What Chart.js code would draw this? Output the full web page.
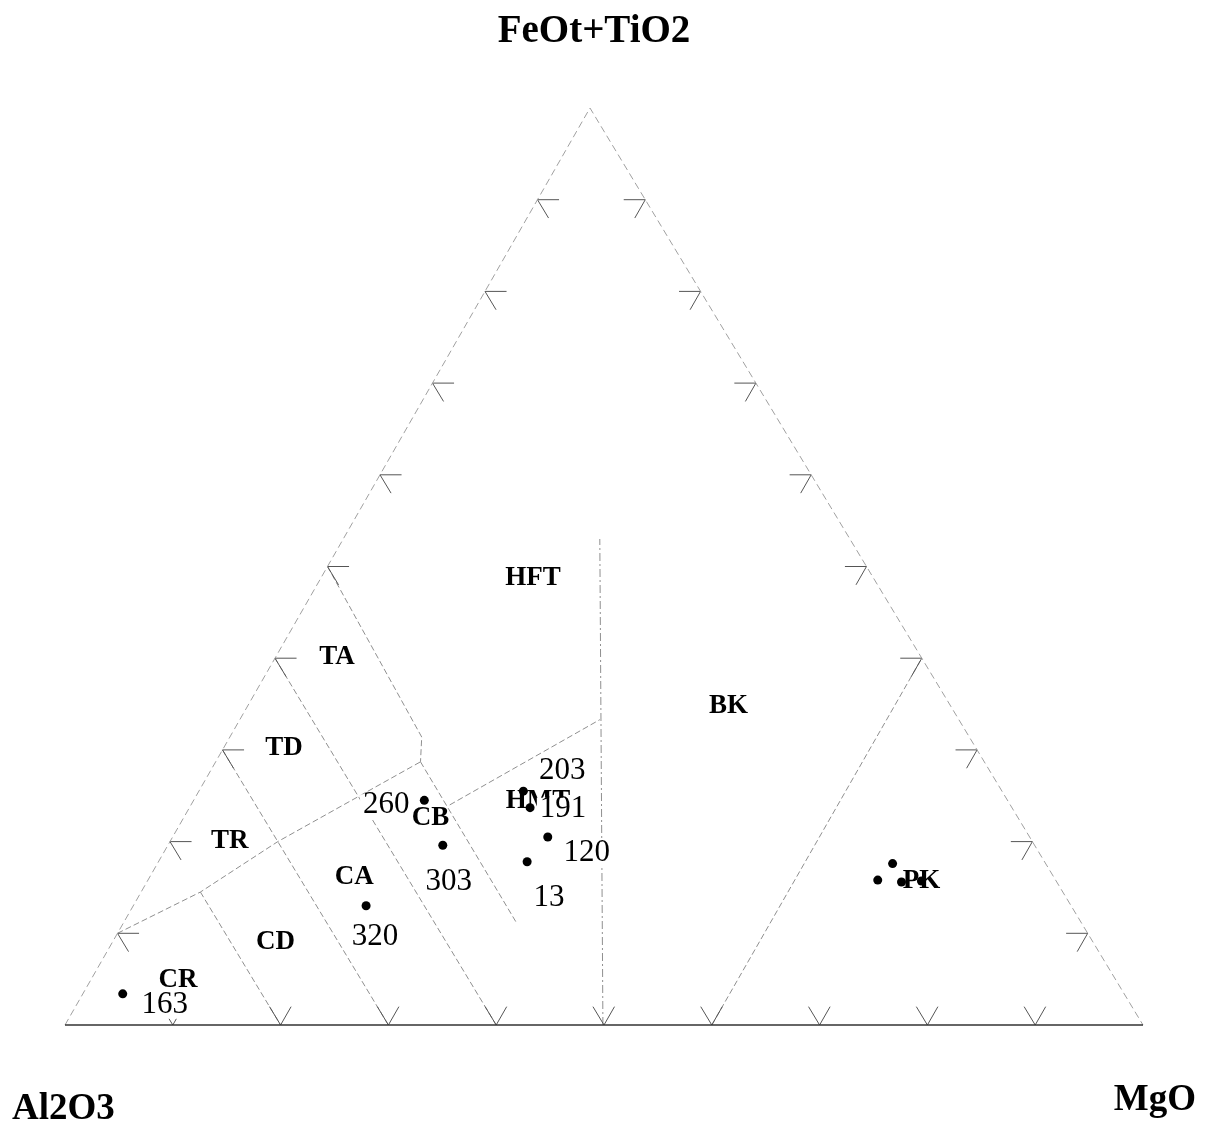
<!DOCTYPE html>
<html>
<head>
<meta charset="utf-8">
<script src="https://cdn.jsdelivr.net/npm/chart.js@4.4.1/dist/chart.umd.min.js"></script>
<style>
  html, body { margin: 0; padding: 0; background: #fff; }
</style>
</head>
<body>
<canvas id="jensenChart" width="1206" height="1125"></canvas>
<script>
// Jensen cation plot: Al2O3 - (FeOt+TiO2) - MgO, values in cation %

// labelled samples
const sampleIds = ['163', '320', '303', '260', '203', '191', '120', '13'];
const sampleAl = [92.9, 65.4, 54.9, 54.1, 44.4, 44.7, 44.7, 48.0];
const sampleFe = [3.4, 13.0, 19.6, 24.5, 25.5, 23.7, 20.5, 17.8];
const sampleMg = [3.7, 21.6, 25.5, 21.4, 30.1, 31.6, 34.8, 34.2];

// samples plotted inside PK without number
const pkAl = [14.2, 16.5, 14.4, 12.5];
const pkFe = [17.6, 15.8, 15.6, 15.7];
const pkMg = [68.2, 67.7, 70.0, 71.8];

// field names and where they are written
const fieldNames = ['HFT', 'TA', 'TD', 'TR', 'CB', 'HMT', 'CA', 'CD', 'CR', 'BK', 'PK'];
const fieldAl = [31.6, 54.2, 64.2, 74.4, 54.5, 43.6, 64.9, 75.8, 87.0, 20.6, 12.5];
const fieldFe = [48.7, 40.1, 30.2, 20.1, 22.6, 24.4, 16.1, 9.1, 4.9, 34.8, 15.7];
const fieldMg = [19.7, 5.7, 5.6, 5.5, 22.9, 32.0, 19.0, 15.1, 8.1, 44.6, 71.8];

// field boundaries, [Al, Fe, Mg]
const lineKomatiite = [[50.1, 0, 49.9], [23.2, 53.0, 23.8]];
const linePK = [[40, 0, 60], [0, 40, 60]];
const lineAl50 = [[50, 50, 0], [50.8, 31.4, 17.8], [52.3, 28.7, 19.0]];
const lineAl60 = [[60, 40, 0], [60, 0, 40]];
const lineAl70 = [[70, 30, 0], [70, 0, 30]];
const lineAl80 = [[80, 14.5, 5.5], [80, 0, 20]];
const lineThCa = [[90, 10, 0], [80, 14.5, 5.5], [70, 20, 10], [52.3, 28.7, 19.0]];
const lineHmt = [[52.3, 28.7, 19.0], [52.4, 11.1, 36.5]];
const lineHft = [[52, 24, 24], [33.3, 33.3, 33.4]];

const tickSteps = [10, 20, 30, 40, 50, 60, 70, 80, 90];
const TICK = 2;
const SKEW = 0.487; // top apex sits a little left of the base centre

function tern(al, fe, mg) {
    const s = al + fe + mg;
    const f = fe / s * 100;
    const m = mg / s * 100;
    return { x: m + SKEW * f, y: f };
}
const toPoints = list => list.map(p => tern(p[0], p[1], p[2]));
const gap = { x: null, y: null };

const tickPts = [];
tickSteps.forEach(v => {
    tickPts.push(tern(100 - v, v, 0), tern(100 - v - TICK, v, TICK), gap);
    tickPts.push(tern(100 - v, v, 0), tern(100 - v, v - TICK, TICK), gap);
    tickPts.push(tern(0, v, 100 - v), tern(TICK, v, 100 - v - TICK), gap);
    tickPts.push(tern(0, v, 100 - v), tern(TICK, v - TICK, 100 - v), gap);
    tickPts.push(tern(100 - v, 0, v), tern(100 - v - TICK, TICK, v), gap);
    tickPts.push(tern(100 - v, 0, v), tern(100 - v, TICK, v - TICK), gap);
});

const samplePts = sampleIds.map((id, i) => tern(sampleAl[i], sampleFe[i], sampleMg[i]));
const pkPts = pkAl.map((a, i) => tern(a, pkFe[i], pkMg[i]));

const labelDx = [42, 9, 6, -38, 39, 33, 39, 22];
const labelDy = [11, 31, 37, 5, -20, 1, 16, 36];

const serif = '"Liberation Serif", "Times New Roman", serif';

function lineSet(points, color, width, dash) {
    return {
        data: points,
        showLine: true,
        pointRadius: 0,
        borderColor: color,
        borderWidth: width,
        borderDash: dash,
        fill: false,
        tension: 0,
        spanGaps: false,
        clip: false
    };
}

const labelPlugin = {
    id: 'jensenLabels',
    beforeDatasetDraw(chart, args) {
        if (args.index !== 0) return;
        const { ctx, scales } = chart;
        const toPx = p => ({ x: scales.x.getPixelForValue(p.x), y: scales.y.getPixelForValue(p.y) });
        ctx.save();
        ctx.textAlign = 'center';
        ctx.textBaseline = 'middle';
        ctx.fillStyle = '#000';
        ctx.font = 'bold 27px ' + serif;
        fieldNames.forEach((name, i) => {
            const p = toPx(tern(fieldAl[i], fieldFe[i], fieldMg[i]));
            ctx.fillText(name, p.x, p.y);
        });
        ctx.font = '31px ' + serif;
        sampleIds.forEach((id, i) => {
            const p = toPx(samplePts[i]);
            const cx = p.x + labelDx[i];
            const cy = p.y + labelDy[i];
            const w = ctx.measureText(id).width;
            ctx.fillStyle = '#fff';
            ctx.fillRect(cx - w / 2 - 3, cy - 11, w + 6, 25);
            ctx.fillStyle = '#000';
            ctx.fillText(id, cx, cy);
        });
        ctx.restore();
    },
    afterDraw(chart) {
        const ctx = chart.ctx;
        ctx.save();
        ctx.fillStyle = '#000';
        ctx.textBaseline = 'alphabetic';
        ctx.font = 'bold 39px ' + serif;
        ctx.textAlign = 'center';
        ctx.fillText('FeOt+TiO2', 594, 42);
        ctx.font = 'bold 37px ' + serif;
        ctx.textAlign = 'left';
        ctx.fillText('Al2O3', 12, 1119);
        ctx.textAlign = 'right';
        ctx.fillText('MgO', 1196, 1110);
        ctx.restore();
    }
};

const boundaryColor = '#8f8f8f';
const boundaryDash = [6, 3];

new Chart(document.getElementById('jensenChart'), {
    type: 'scatter',
    data: {
        datasets: [
            {
                data: samplePts.concat(pkPts),
                pointRadius: 4.5,
                pointBackgroundColor: '#000',
                pointBorderWidth: 0,
                showLine: false,
                clip: false
            },
            lineSet(toPoints([[100, 0, 0], [0, 0, 100]]), '#333', 1.6, []),
            lineSet(toPoints([[100, 0, 0], [0, 100, 0], [0, 0, 100]]), '#a0a0a0', 1, [7, 4]),
            lineSet(tickPts, '#555', 1, []),
            lineSet(toPoints(lineKomatiite), boundaryColor, 1, [8, 3, 2, 3]),
            lineSet(toPoints(linePK), boundaryColor, 1, boundaryDash),
            lineSet(toPoints(lineAl50), boundaryColor, 1, boundaryDash),
            lineSet(toPoints(lineAl60), boundaryColor, 1, boundaryDash),
            lineSet(toPoints(lineAl70), boundaryColor, 1, boundaryDash),
            lineSet(toPoints(lineAl80), boundaryColor, 1, boundaryDash),
            lineSet(toPoints(lineThCa), boundaryColor, 1, boundaryDash),
            lineSet(toPoints(lineHmt), boundaryColor, 1, boundaryDash),
            lineSet(toPoints(lineHft), boundaryColor, 1, boundaryDash)
        ]
    },
    options: {
        responsive: false,
        animation: false,
        events: [],
        layout: { padding: { left: 65, right: 63, top: 108, bottom: 100 } },
        scales: {
            x: { type: 'linear', min: 0, max: 100, display: false },
            y: { type: 'linear', min: 0, max: 100, display: false }
        },
        plugins: {
            legend: { display: false },
            tooltip: { enabled: false }
        }
    },
    plugins: [labelPlugin]
});
</script>
</body>
</html>
